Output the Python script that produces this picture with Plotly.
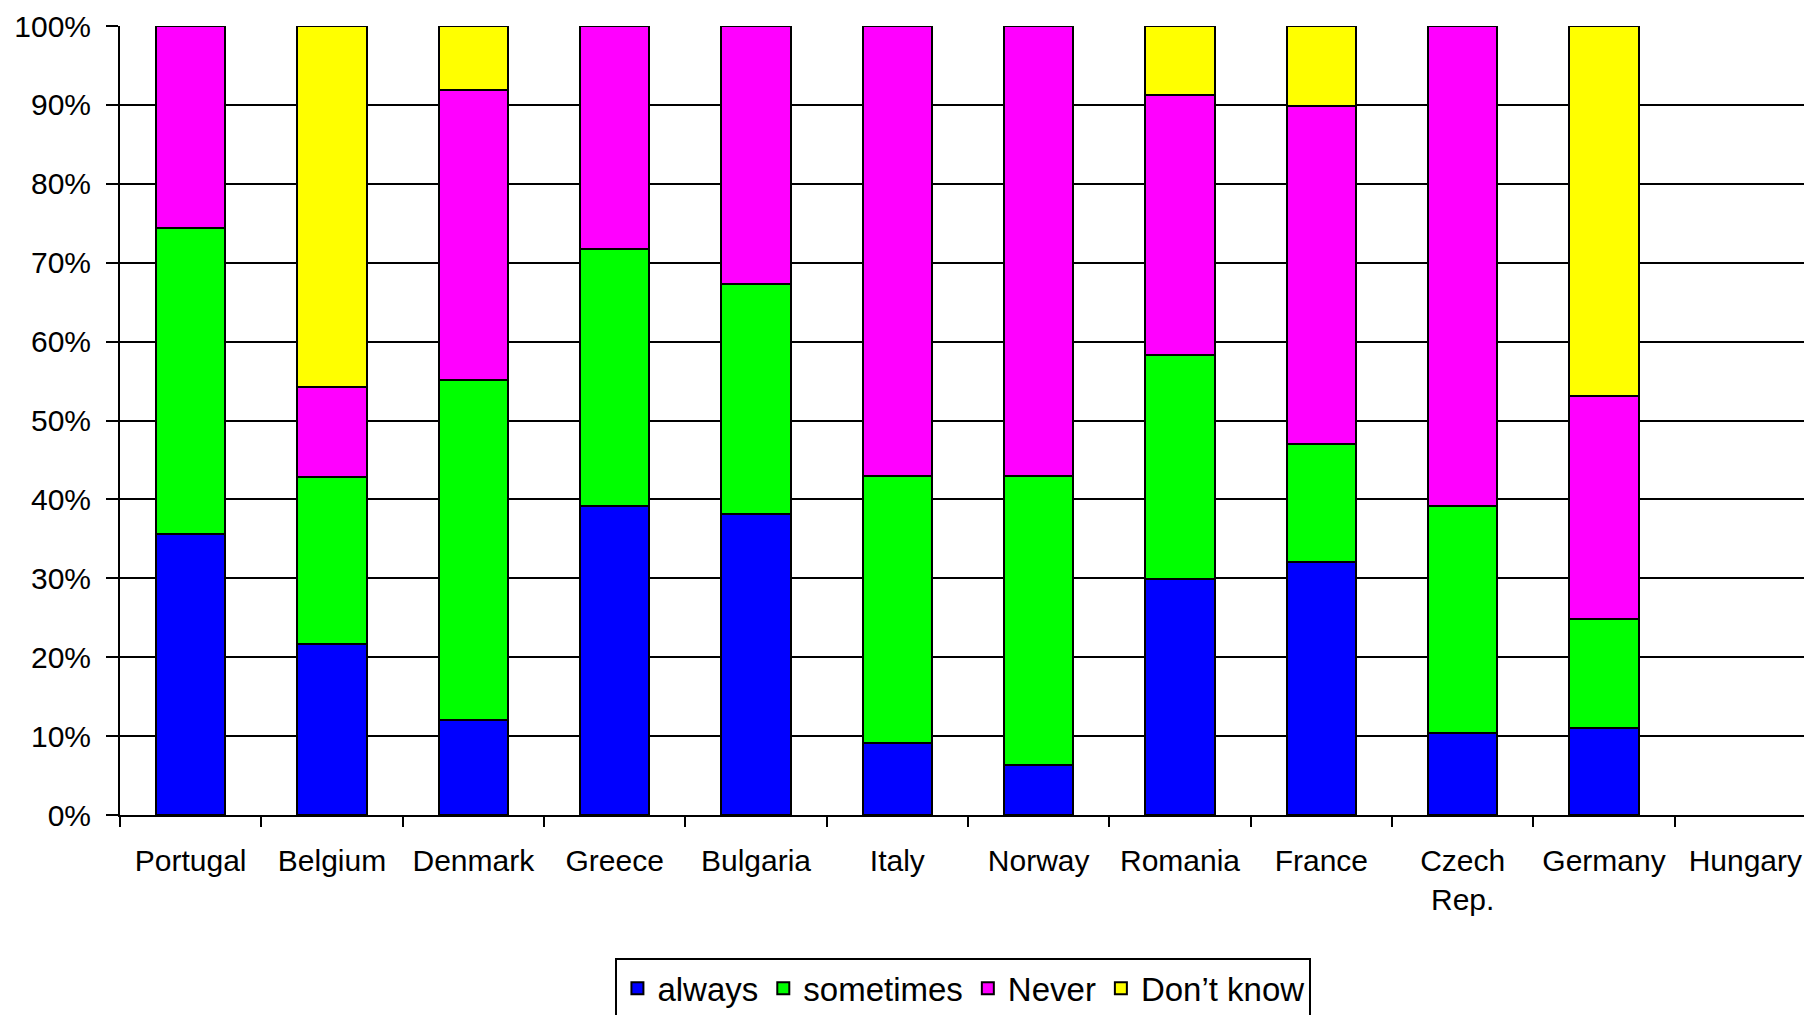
import plotly.graph_objects as go

countries = ['Portugal', 'Belgium', 'Denmark', 'Greece', 'Bulgaria', 'Italy', 'Norway',
             'Romania', 'France', 'Czech<br>Rep.', 'Germany', 'Hungary']

always = [35.6, 21.7, 12.0, 39.2, 38.2, 9.1, 6.3, 29.9, 32.1, 10.4, 11.0, None]
sometimes = [38.8, 21.1, 43.1, 32.5, 29.1, 33.9, 36.7, 28.4, 14.9, 28.8, 13.9, None]
never = [25.6, 11.5, 36.8, 28.3, 32.7, 57.0, 57.0, 32.9, 42.9, 60.8, 28.2, None]
dont_know = [0, 45.7, 8.1, 0, 0, 0, 0, 8.8, 10.1, 0, 46.9, None]

series = [('always', always, '#0000FF'),
          ('sometimes', sometimes, '#00FF00'),
          ('Never', never, '#FF00FF'),
          ('Don\u2019t know', dont_know, '#FFFF00')]

font = 'Liberation Sans, Arial, sans-serif'

fig = go.Figure()
for name, vals, col in series:
    fig.add_trace(go.Bar(x=countries, y=vals, name=name, width=0.49,
                         marker=dict(color=col, line=dict(color='black', width=2))))

# page body adds an 8px offset, margins are set to compensate
fig.update_layout(
    width=1812, height=1015,
    barmode='stack',
    plot_bgcolor='white', paper_bgcolor='white',
    margin=dict(l=112, r=4, t=18, b=208, autoexpand=False),
    font=dict(family=font, size=30, color='black'),
    legend=dict(orientation='h', traceorder='normal',
                x=0.4973, xanchor='center', y=-0.1815, yanchor='top',
                bordercolor='black', borderwidth=2,
                font=dict(size=33), itemclick=False),
)

fig.update_yaxes(range=[0, 100], dtick=10, ticksuffix='%',
                 showgrid=True, gridcolor='black', gridwidth=2,
                 zeroline=False, showline=True, linecolor='black', linewidth=2,
                 ticks='outside', ticklen=12, tickwidth=2, tickcolor='black',
                 ticklabelstandoff=9)
fig.update_xaxes(showgrid=False, showline=True, linecolor='black', linewidth=2,
                 ticks='outside', ticklen=10, tickwidth=2, tickcolor='black',
                 tickson='boundaries', range=[-0.5, 11.5], tickangle=0,
                 ticklabelstandoff=18)

fig.write_html('out.html')
